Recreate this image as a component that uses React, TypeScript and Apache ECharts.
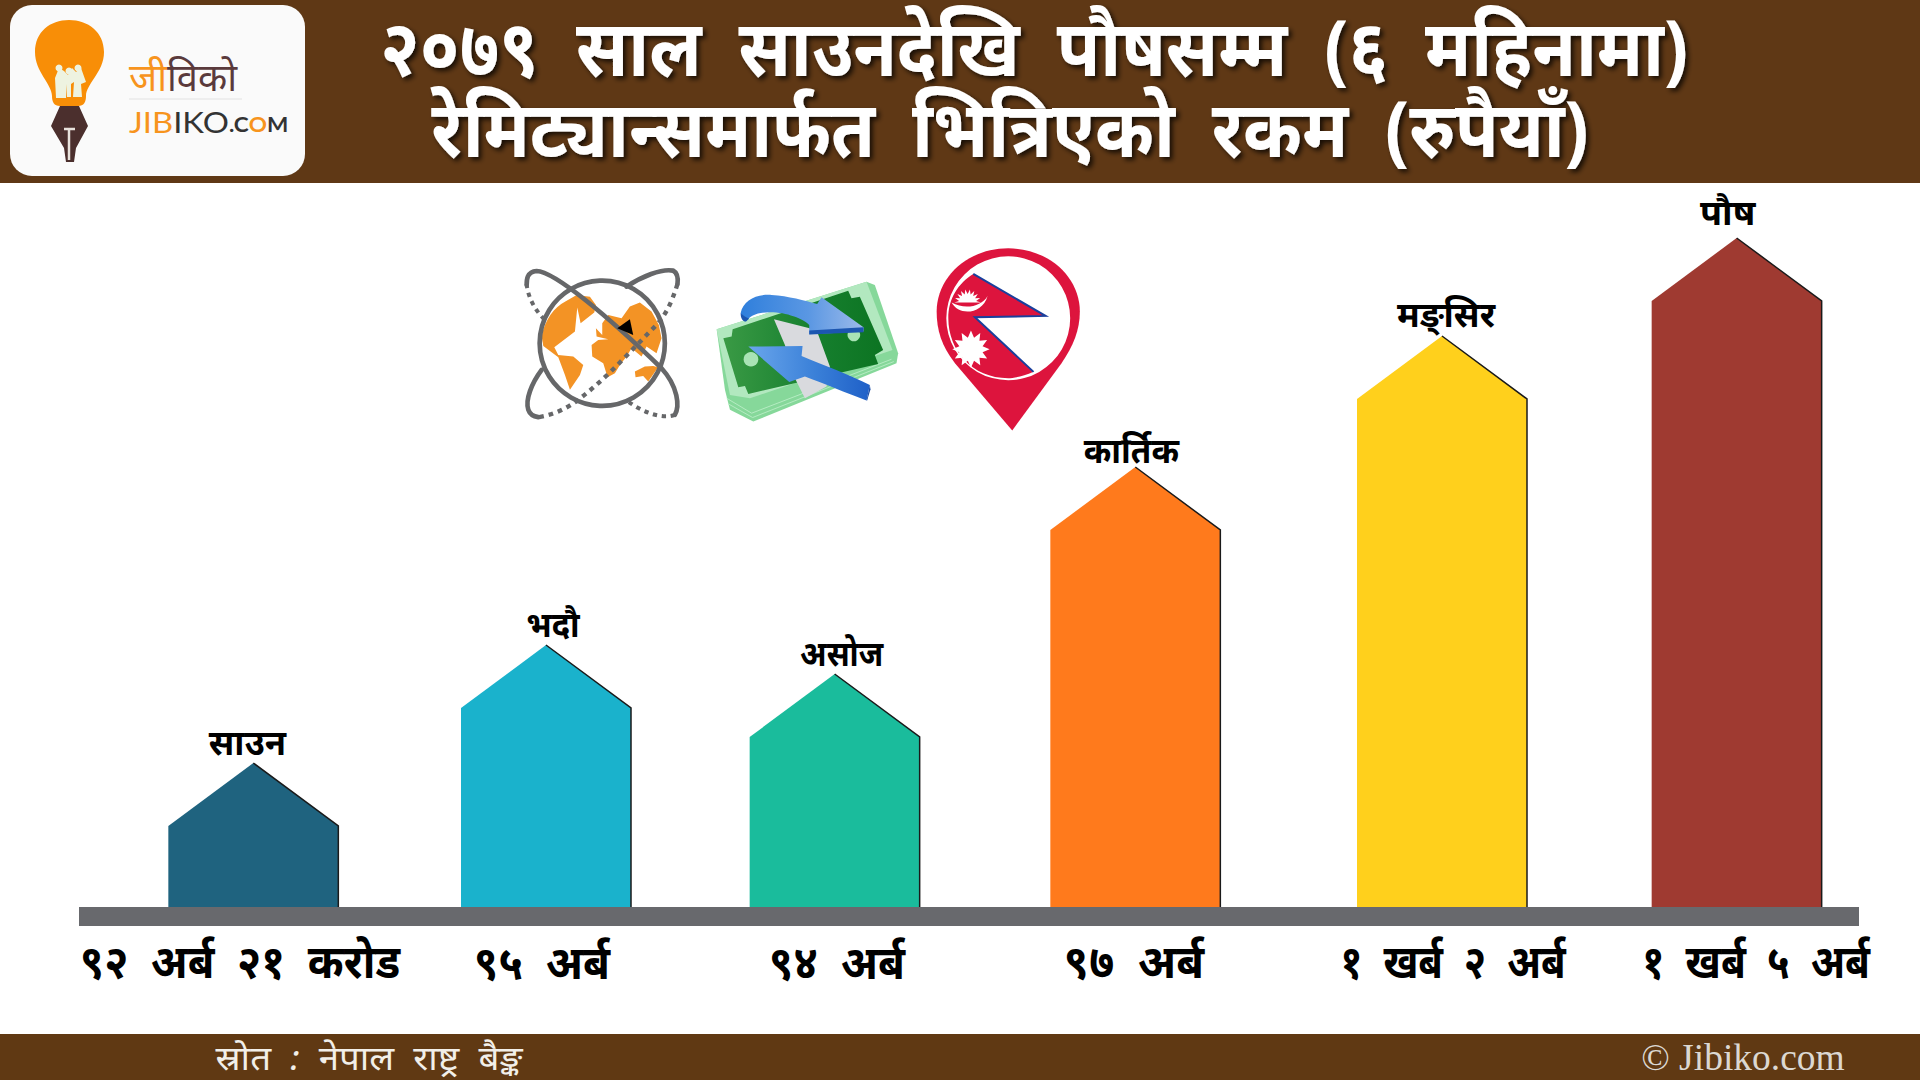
import React, { useEffect, useRef } from "react";
import * as echarts from "echarts";

const months = ["साउन", "भदौ", "असोज", "कार्तिक", "मङ्सिर", "पौष"];
const amountLabels = ["९२ अर्ब २१ करोड", "९५ अर्ब", "९४ अर्ब", "९७ अर्ब", "१ खर्ब २ अर्ब", "१ खर्ब ५ अर्ब"];
// Apex height of each pictogram bar (the picture is not to scale with the amounts).
const barHeights = [144, 262, 233, 440, 571, 669];
const barColors = ["#1f637f", "#1ab2cc", "#1abc9c", "#ff7a1c", "#ffd01c", "#9f3a31"];
const titleLines = ["२०७९ साल साउनदेखि पौषसम्म (६ महिनामा)", "रेमिट्यान्समार्फत भित्रिएको रकम (रुपैयाँ)"];
const sourceText = "स्रोत : नेपाल राष्ट्र बैङ्क";
const copyrightText = "© Jibiko.com";

// The reference sets its Devanagari text with wide word gaps.
const wide = (s: string) => s.replace(/ /g, "  ");

function starPath(cx: number, cy: number, R: number, r: number, n: number, a0 = 0, a1 = Math.PI * 2) {
  let d = "";
  for (let i = 0; i <= n * 2; i++) {
    const a = a0 + ((a1 - a0) * i) / (n * 2);
    const q = i % 2 ? r : R;
    d += (i ? "L" : "M") + (cx + q * Math.cos(a)).toFixed(1) + "," + (cy + q * Math.sin(a)).toFixed(1);
  }
  return d + "Z";
}

const shapes: Record<string, string> = {
  bulb: "M60,106 C54,106 52,102 52,96 C52,84 35,72 35,52 C35,32 50,20 69,20 C88,20 104,32 104,52 C104,72 86,84 86,96 C86,102 84,106 78,106 Z",
  pen: "M60,106 L79,106 L88,126 L76,148 L74,162 L66,162 L64,148 L51,126 Z",
  people: "M56,98 L55,78 L59,68 L64,71 L68,75 L72,68 L76,72 L81,68 L86,82 L81,84 L82,97 L73,97 L74,82 L71,84 L71,97 L67,97 L67,84 L66,98 Z",
  orbitA: "M35,75 C35,60 35,35 65,33 C120,35 280,170 440,325 C490,380 495,440 480,465",
  orbitA2: "M35,72 C38,110 60,150 85,175 M480,465 C440,480 380,455 340,425",
  orbitB: "M335,80 C380,50 440,25 475,32 C490,40 490,55 488,72 M80,330 C50,370 30,420 40,450 C45,465 55,470 70,472",
  orbitB2: "M488,72 C470,130 450,170 420,200 C350,270 280,350 200,412 C160,445 115,465 70,472",
  americas: "M80,230 C88,180 120,140 150,125 L185,105 L225,110 L243,135 L238,158 L197,190 L187,143 L180,215 L118,262 L130,285 L175,290 L205,315 L195,345 L165,390 L150,345 L130,292 L85,258 Z",
  eurasia: "M262,190 L280,165 L320,175 L345,140 L375,128 L410,155 L432,195 L440,235 L425,280 L395,260 L380,290 L350,265 L335,290 L315,315 L300,340 L278,352 L265,310 L232,290 L230,255 L250,240 L280,238 L245,230 L243,205 L262,225 Z",
  australia: "M360,335 L390,320 L415,318 L430,322 L400,365 L385,348 L362,352 Z",
  pointer: "M345,178 L355,225 L307,205 Z",
  billStack: "M20,178 L470,35 L495,45 L565,250 L560,280 L130,455 L60,420 L45,360 Z",
  billTop: "M20,178 L470,35 L548,240 L120,385 L60,375 Z",
  billInk: "M40,205 L65,200 L68,178 L415,62 L425,85 L450,80 L520,240 L495,255 L505,282 L115,372 L105,348 L85,352 Z",
  stackLines: "M50,385 L125,430 L545,268 M55,402 L128,443 L552,275",
  band: "M192,148 L320,180 L360,290 L350,350 L285,385 L255,325 L225,225 Z",
  arrowTop: "M92,130 C100,90 140,72 185,75 C235,78 285,92 322,102 L335,82 L461,172 L461,185 L298,193 L298,165 C285,150 240,130 190,127 C150,125 120,135 108,155 Z",
  arrowTopEdge: "M298,182 L461,172 L461,187 L298,194 Z M92,130 C92,145 98,155 108,155 L118,146 C106,142 100,136 92,130 Z",
  arrowBottom: "M115,230 L278,228 L275,258 C340,285 420,315 480,345 L470,392 C410,370 340,340 285,320 L238,336 Z",
  arrowBottomEdge: "M480,345 L482,358 L472,392 L470,392 Z",
  pin: "M262,572 L90,370 C50,320 35,270 35,215 C35,110 130,25 250,25 C370,25 465,110 465,215 C465,270 445,320 410,370 Z",
  flag: "M145,102 L362,228 L150,232 L326,396 C295,410 265,415 250,415 C140,415 70,330 70,235 C70,175 100,130 145,102 Z",
  flagEdge: "M145,102 L362,228 L150,232 L326,396",
  moon: starPath(128, 188, 40, 26, 9, Math.PI, Math.PI * 2) + "M80,188 C100,228 172,225 188,168 C170,200 120,210 80,188 Z",
  sun: starPath(138, 328, 56, 36, 12),
};
Object.keys(shapes).forEach((k) => echarts.graphic.registerShape(k, echarts.graphic.extendPath(shapes[k], {})));

const GREY = "#666769";
const shadow = { textShadowColor: "rgba(0,0,0,0.75)", textShadowBlur: 5, textShadowOffsetX: 3, textShadowOffsetY: 3 };
const art = (type: string, style: any) => ({ type, style });
const hGradient = (a: string, b: string, c: string) => ({
  type: "linear", x: 0, y: 0, x2: 1, y2: 0,
  colorStops: [{ offset: 0, color: a }, { offset: 0.55, color: b }, { offset: 1, color: c }],
});

function iconGroup(x: number, y: number, children: any[]) {
  return { type: "group", x, y, scaleX: 1 / 3, scaleY: 1 / 3, children };
}

export default function App() {
  const ref = useRef<HTMLDivElement>(null);
  useEffect(() => {
    const chart = echarts.init(ref.current!, undefined, { renderer: "svg" });
    // Layout of the pictogram: the reference's columns and captions are hand-placed, not evenly spaced.
    const colNudge = [0, -4, -12, -8, 2, 0];
    const monthDx = [-6, 7, 7, -4, 4, -9];
    const monthDy = [-22, -21, -21, -17, -23, -27];
    const monthSx = [0.99, 0.93, 0.89, 0.95, 1.0, 1.03];
    const amountX = [240, 542, 837, 1134, 1453, 1756];
    const amountSx = [0.92, 0.93, 0.93, 0.96, 0.85, 0.86];
    const half = 85;
    chart.setOption({
      animation: false,
      backgroundColor: "#fff",
      grid: { left: 105, right: 35, top: 207, bottom: 173 },
      xAxis: { type: "category", data: months, show: false },
      yAxis: { type: "value", min: 0, max: 700, show: false },
      series: [{
        type: "custom",
        data: barHeights,
        encode: { x: 0, y: 1 },
        renderItem: (p: any, api: any) => {
          const i = p.dataIndex;
          const c = api.coord([i, api.value(1)]);
          const base = api.coord([i, 0]);
          const cx = c[0] + colNudge[i];
          const top = c[1];
          return {
            type: "group",
            children: [
              { type: "polygon", shape: { points: [[cx - half, base[1]], [cx - half, top + 63], [cx, top], [cx + half, top + 63], [cx + half, base[1]]] }, style: { fill: barColors[i] } },
              { type: "polyline", shape: { points: [[cx, top], [cx + half, top + 63], [cx + half, base[1]]] }, style: { fill: "none", stroke: "#1a1a1a", lineWidth: 1.5 } },
              { type: "text", x: cx + monthDx[i], y: top + monthDy[i], scaleX: monthSx[i], style: { text: months[i], font: "bold 35px 'Noto Sans'", fill: "#000", textAlign: "center", textVerticalAlign: "middle" } },
              { type: "text", x: amountX[i], y: 960, scaleX: amountSx[i], style: { text: wide(amountLabels[i]), font: "bold 47px 'Noto Sans'", fill: "#000", textAlign: "center", textVerticalAlign: "middle" } },
            ],
          };
        },
      }],
      graphic: [
        { type: "rect", shape: { x: 0, y: 0, width: 1920, height: 183 }, style: { fill: "#5f3815" } },
        { type: "rect", shape: { x: 0, y: 1034, width: 1920, height: 46 }, style: { fill: "#603913" } },
        { type: "rect", shape: { x: 79, y: 907, width: 1780, height: 19 }, style: { fill: "#68696d" } },
        { type: "text", x: 1034, y: 46, scaleX: 0.91, style: { text: wide(titleLines[0]), fill: "#fff", font: "bold 78px 'Noto Sans'", textAlign: "center", textVerticalAlign: "middle", ...shadow } },
        { type: "text", x: 1010, y: 127, scaleX: 0.91, style: { text: wide(titleLines[1]), fill: "#fff", font: "bold 78px 'Noto Sans'", textAlign: "center", textVerticalAlign: "middle", ...shadow } },
        { type: "text", x: 369, y: 1057, scaleX: 1.08, style: { text: wide(sourceText), fill: "#f2efe9", font: "italic 34px 'Noto Sans'", textAlign: "center", textVerticalAlign: "middle" } },
        { type: "text", x: 1743, y: 1057, style: { text: copyrightText, fill: "#dcd8d2", font: "37.5px 'Liberation Serif'", textAlign: "center", textVerticalAlign: "middle" } },

        // logo
        { type: "rect", shape: { x: 10, y: 5, width: 295, height: 171, r: 22 }, style: { fill: "#fafafa" } },
        art("bulb", { fill: "#f88e07" }),
        art("people", { fill: "#eef3e0" }),
        { type: "circle", shape: { cx: 59, cy: 68, r: 3.5 }, style: { fill: "#eef3e0" } },
        { type: "circle", shape: { cx: 69, cy: 71, r: 3.5 }, style: { fill: "#eef3e0" } },
        { type: "circle", shape: { cx: 78, cy: 68, r: 3.5 }, style: { fill: "#eef3e0" } },
        art("pen", { fill: "#4b2f2d" }),
        { type: "line", shape: { x1: 69, y1: 129, x2: 69, y2: 160 }, style: { stroke: "#e8e2dc", lineWidth: 2.5 } },
        { type: "line", shape: { x1: 64, y1: 129, x2: 75, y2: 129 }, style: { stroke: "#e8e2dc", lineWidth: 2.5 } },
        { type: "text", x: 129, y: 76, style: { text: "जी", fill: "#f7941d", font: "38px 'Noto Sans'", textVerticalAlign: "middle" } },
        { type: "text", x: 167, y: 76, style: { text: "विको", fill: "#5a3a3c", font: "38px 'Noto Sans'", textVerticalAlign: "middle" } },
        { type: "line", shape: { x1: 129, y1: 99, x2: 242, y2: 99 }, style: { stroke: "#eeeeee", lineWidth: 2 } },
        {
          type: "text", x: 129, y: 122, scaleX: 1.13,
          style: {
            text: "{o|JIB}{d|IKO}{s|.C}{t|O}{s|M}", textVerticalAlign: "middle",
            rich: {
              o: { fill: "#f7941d", font: "29px Lato" }, d: { fill: "#333", font: "29px Lato" },
              s: { fill: "#333", font: "bold 20px Lato", padding: [6, 0, 0, 0] }, t: { fill: "#f7941d", font: "bold 20px Lato", padding: [6, 0, 0, 0] },
            },
          },
        },

        // globe
        iconGroup(515, 260, [
          art("americas", { fill: "#f39325" }),
          art("eurasia", { fill: "#f39325" }),
          art("australia", { fill: "#f39325" }),
          { type: "circle", shape: { cx: 262, cy: 250, r: 188 }, style: { fill: "none", stroke: GREY, lineWidth: 14 } },
          art("orbitA", { fill: "none", stroke: GREY, lineWidth: 14, lineCap: "round" }),
          art("orbitA2", { fill: "none", stroke: GREY, lineWidth: 12, lineDash: [13, 14] }),
          art("orbitB", { fill: "none", stroke: GREY, lineWidth: 14, lineCap: "round" }),
          art("orbitB2", { fill: "none", stroke: GREY, lineWidth: 13, lineDash: [14, 15] }),
          art("pointer", { fill: "#000" }),
        ]),

        // money
        iconGroup(710, 270, [
          art("billStack", { fill: "#86d89a" }),
          art("stackLines", { fill: "none", stroke: "#b5ebc2", lineWidth: 3 }),
          art("billTop", { fill: "#b2e8bf" }),
          art("billInk", { fill: hGradient("#3a9a45", "#17802f", "#0c7422") }),
          { type: "circle", shape: { cx: 123, cy: 268, r: 22 }, style: { fill: "#a9e3b5" } },
          { type: "circle", shape: { cx: 432, cy: 195, r: 19 }, style: { fill: "#a9e3b5" } },
          art("band", { fill: "#d9dade" }),
          art("arrowTop", { fill: hGradient("#2f7fdc", "#5a97e3", "#9cbaea") }),
          art("arrowTopEdge", { fill: "#1c56b0" }),
          art("arrowBottom", { fill: hGradient("#6aa6ec", "#3a80d8", "#1f60c8") }),
          art("arrowBottomEdge", { fill: "#1c4fa8" }),
        ]),

        // pin
        iconGroup(925, 240, [
          art("pin", { fill: "#dd143d" }),
          { type: "circle", shape: { cx: 250, cy: 235, r: 186 }, style: { fill: "#fff" } },
          art("flag", { fill: "#dd143d" }),
          art("flagEdge", { fill: "none", stroke: "#1a3f9c", lineWidth: 6 }),
          art("moon", { fill: "#fff" }),
          art("sun", { fill: "#fff" }),
        ]),
      ],
    });
    return () => chart.dispose();
  }, []);
  return <div ref={ref} style={{ width: 1920, height: 1080, position: "absolute", left: 0, top: 0 }} />;
}
